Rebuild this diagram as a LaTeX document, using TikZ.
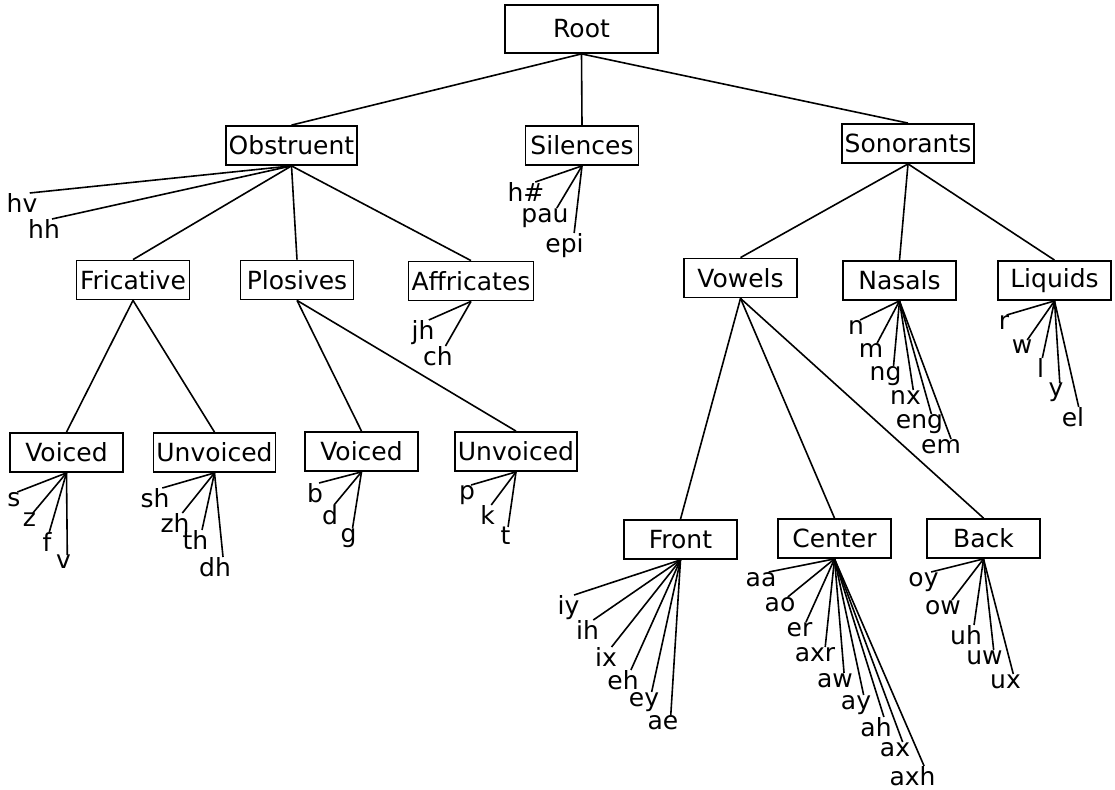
\documentclass[tikz,border=0pt]{standalone}
\usepackage{fontspec}
\setmainfont{DejaVu Sans}
\usetikzlibrary{calc}
\begin{document}
\begin{tikzpicture}[x=1pt,y=-1pt]
	\tikzstyle{cat}=[draw,line width=1.8pt,inner xsep=3pt,minimum width=113pt,minimum height=39pt,font=\fontsize{25}{30}\selectfont]
	\tikzstyle{phone}=[inner sep=0pt,anchor=north,font=\fontsize{25}{30}\selectfont]
	\tikzstyle{arc}=[line width=1.6pt]
	\useasboundingbox (0,0) rectangle (1115,789);
	% categories
	\node[cat,minimum width=153pt,minimum height=48pt] (Root) at (581.5,29){Root};
	\node[cat] (Obstruent) at (291.5,145.5){Obstruent};
	\node[cat] (Silences) at (582,145.5){Silences};
	\node[cat] (Sonorants) at (908,143.5){Sonorants};
	\node[cat] (Fricative) at (133,280){Fricative};
	\node[cat] (Plosives) at (297,280){Plosives};
	\node[cat] (Affricates) at (471,281){Affricates};
	\node[cat] (Vowels) at (740.5,278){Vowels};
	\node[cat] (Nasals) at (899.5,280.5){Nasals};
	\node[cat] (Liquids) at (1054.5,280.5){Liquids};
	\node[cat] (VoicedF) at (66.5,452.5){Voiced};
	\node[cat] (UnvoicedF) at (214.5,452.5){Unvoiced};
	\node[cat] (VoicedP) at (361.5,451.5){Voiced};
	\node[cat] (UnvoicedP) at (516,451.5){Unvoiced};
	\node[cat] (Front) at (680.5,539.5){Front};
	\node[cat] (Center) at (834.5,538.5){Center};
	\node[cat] (Back) at (983.5,538.5){Back};
	% phones
	\node[phone] (hv) at (22,193){hv};
	\node[phone] (hh) at (44,219){hh};
	\node[phone] (s) at (14,492){s};
	\node[phone] (z) at (29.5,513){z};
	\node[phone] (f) at (47,532){f};
	\node[phone] (v) at (63.5,555){v};
	\node[phone] (sh) at (155,488){sh};
	\node[phone] (zh) at (175,513){zh};
	\node[phone] (th) at (195.5,530){th};
	\node[phone] (dh) at (215,557){dh};
	\node[phone] (b) at (315,483){b};
	\node[phone] (d) at (330,505){d};
	\node[phone] (g) at (348.5,528){g};
	\node[phone] (p) at (467,485){p};
	\node[phone] (k) at (487.5,505){k};
	\node[phone] (t) at (505.5,527){t};
	\node[phone] (hash) at (526,182){h\#};
	\node[phone] (pau) at (545,208){pau};
	\node[phone] (epi) at (564.5,233){epi};
	\node[phone] (jh) at (423,320){jh};
	\node[phone] (ch) at (438,346){ch};
	\node[phone] (n) at (856,320){n};
	\node[phone] (m) at (871,343){m};
	\node[phone] (ng) at (885.5,366){ng};
	\node[phone] (nx) at (905.5,390){nx};
	\node[phone] (eng) at (919.5,414){eng};
	\node[phone] (em) at (941,439){em};
	\node[phone] (r) at (1004,315){r};
	\node[phone] (w) at (1022,340){w};
	\node[phone] (l) at (1040.5,358){l};
	\node[phone] (y) at (1056,383){y};
	\node[phone] (el) at (1073,407){el};
	\node[phone] (iy) at (568.5,595){iy};
	\node[phone] (ih) at (587.5,620){ih};
	\node[phone] (ix) at (606,647){ix};
	\node[phone] (eh) at (623,670){eh};
	\node[phone] (ey) at (644,692){ey};
	\node[phone] (ae) at (663,715){ae};
	\node[phone] (aa) at (761,572){aa};
	\node[phone] (ao) at (780,597){ao};
	\node[phone] (er) at (799.5,622){er};
	\node[phone] (axr) at (815,647){axr};
	\node[phone] (aw) at (835,673){aw};
	\node[phone] (ay) at (856,695){ay};
	\node[phone] (ah) at (876,717){ah};
	\node[phone] (ax) at (895,742){ax};
	\node[phone] (axh) at (912.5,766){axh};
	\node[phone] (oy) at (923.5,572){oy};
	\node[phone] (ow) at (943,600){ow};
	\node[phone] (uh) at (966,625){uh};
	\node[phone] (uw) at (984.5,650){uw};
	\node[phone] (ux) at (1005.5,674){ux};
	% tree
	\foreach \a/\b in {Root/Obstruent,Root/Silences,Root/Sonorants,
		Obstruent/Fricative,Obstruent/Plosives,Obstruent/Affricates,
		Sonorants/Vowels,Sonorants/Nasals,Sonorants/Liquids,
		Fricative/VoicedF,Fricative/UnvoicedF,Plosives/VoicedP,Plosives/UnvoicedP,
		Vowels/Front,Vowels/Center,Vowels/Back}
		\draw[arc] (\a.south) -- (\b.north);
	% phones to their class
	\foreach \a/\b in {Obstruent/hv,Obstruent/hh,
		VoicedF/s,VoicedF/z,VoicedF/f,VoicedF/v,
		UnvoicedF/sh,UnvoicedF/zh,UnvoicedF/th,UnvoicedF/dh,
		VoicedP/b,VoicedP/d,VoicedP/g,UnvoicedP/p,UnvoicedP/k,UnvoicedP/t,
		Silences/hash,Silences/pau,Silences/epi,Affricates/jh,Affricates/ch,
		Nasals/n,Nasals/m,Nasals/ng,Nasals/nx,Nasals/eng,Nasals/em,
		Liquids/r,Liquids/w,Liquids/l,Liquids/y,Liquids/el,
		Front/iy,Front/ih,Front/ix,Front/eh,Front/ey,Front/ae,
		Center/aa,Center/ao,Center/er,Center/axr,Center/aw,Center/ay,Center/ah,Center/ax,Center/axh,
		Back/oy,Back/ow,Back/uh,Back/uw,Back/ux}
		\draw[arc] (\a.south) -- ($(\b.north)!.5!(\b.north east)$);
\end{tikzpicture}
\end{document}
